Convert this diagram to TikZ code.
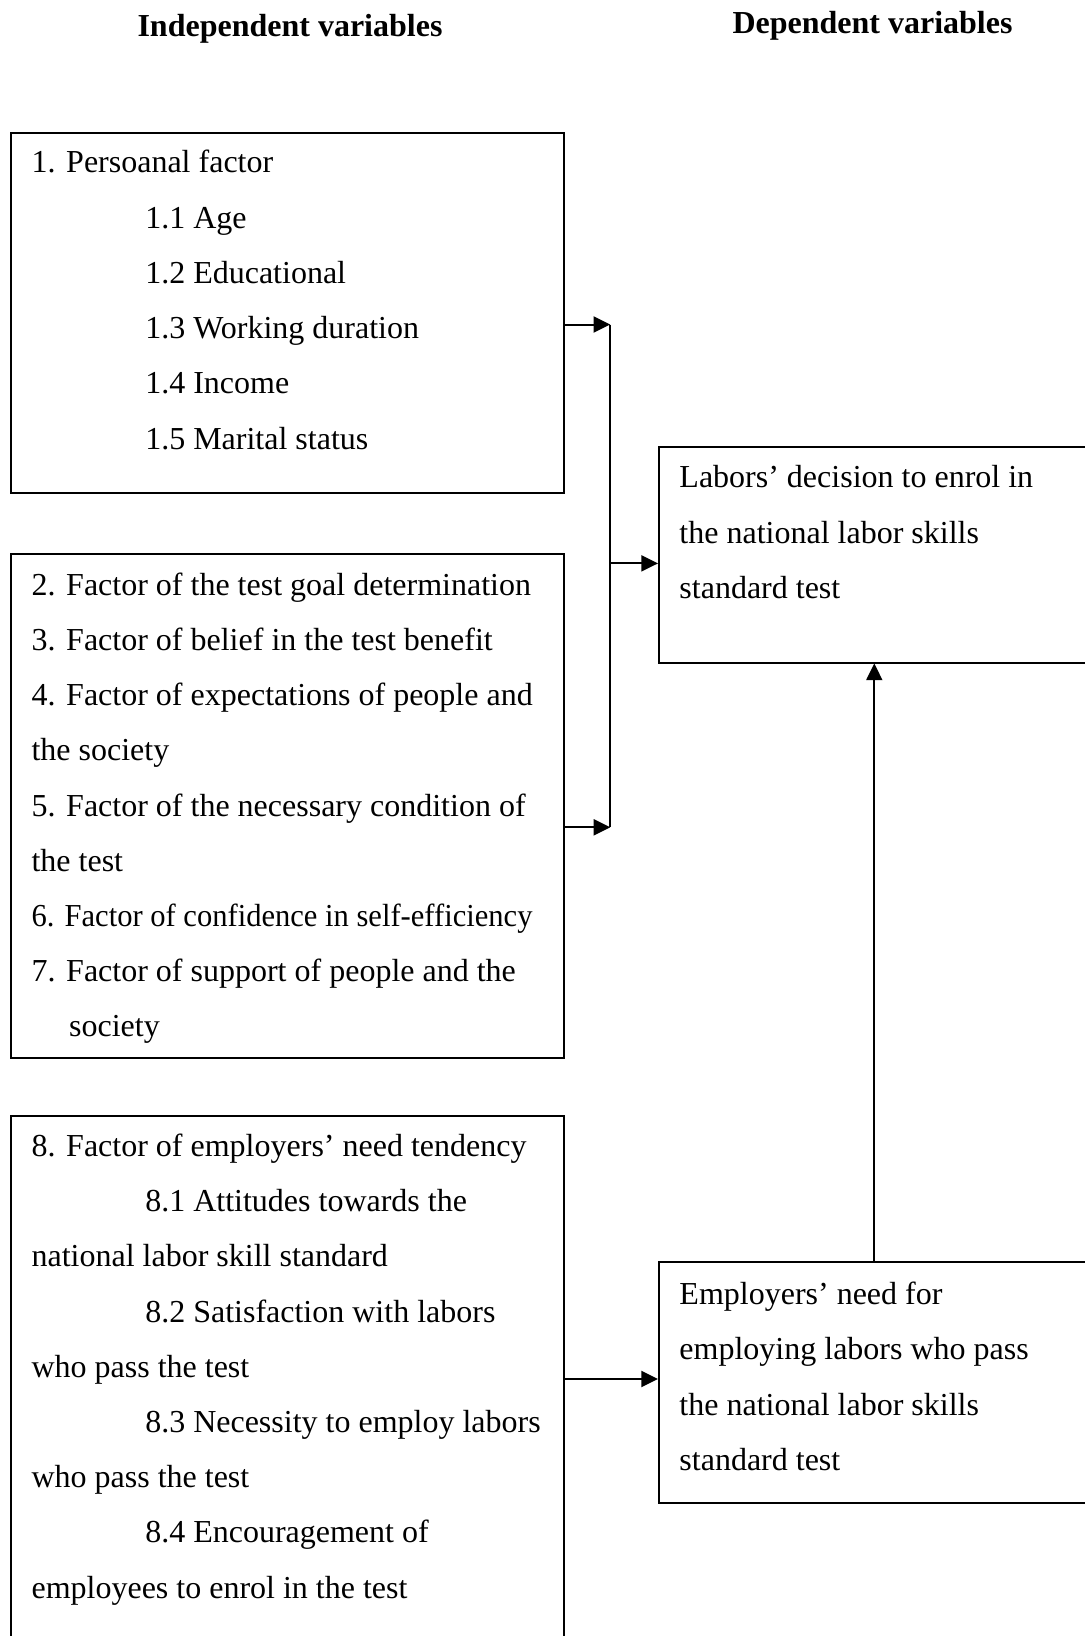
\documentclass[tikz,border=0pt]{standalone}
\usepackage{fontspec}
\usepackage{graphicx}
\setmainfont{Liberation Serif}
\usetikzlibrary{arrows.meta}
\begin{document}
\begin{tikzpicture}[x=0.75pt,y=-0.75pt,
  boxst/.style={draw, line width=1.5pt, rectangle, inner sep=0pt, anchor=north west},
  txt/.style={anchor=base west, inner sep=0pt, font=\fontsize{24}{28}\selectfont},
  head/.style={anchor=base, inner sep=0pt, font=\fontsize{24}{28}\selectfont\bfseries},
  arr/.style={line width=1.5pt, -{Triangle[length=12.5pt,width=12pt]}},
  conn/.style={line width=1.5pt}]
\useasboundingbox (0,0) rectangle (1085,1636);
\clip (0,0) rectangle (1085,1636);
\fill[white] (0,0) rectangle (1085,1636);

% headings
\node[head] (h1) at (290,36) {Independent variables};
\node[head] (h2) at (872.5,33) {Dependent variables};

% boxes
\node[boxst, minimum width=414.8pt, minimum height=270pt] (b1) at (10.4,131.5) {};
\node[boxst, minimum width=414.8pt, minimum height=378pt] (b2) at (10.4,553) {};
\node[boxst, minimum width=414.8pt, minimum height=397.5pt] (b3) at (10.4,1115) {};
\node[boxst, minimum width=330pt, minimum height=162pt] (r1) at (658,445.5) {};
\node[boxst, minimum width=330pt, minimum height=180.75pt] (r2) at (658,1261) {};

% box 1 text
\node[txt] (t11) at (31.3,172.7) {1. Persoanal factor};
\node[txt] (t12) at (145,228) {1.1 Age};
\node[txt] (t13) at (145,283.3) {1.2 Educational};
\node[txt] (t14) at (145,338.6) {1.3 Working duration};
\node[txt] (t15) at (145,393.9) {1.4 Income};
\node[txt] (t16) at (145,449.2) {1.5 Marital status};

% box 2 text
\node[txt] (t21) at (31.3,595.2) {2. Factor of the test goal determination};
\node[txt] (t22) at (31.3,650.4) {3. Factor of belief in the test benefit};
\node[txt] (t23) at (31.3,705.6) {4. Factor of expectations of people and};
\node[txt] (t24) at (31.3,760.8) {the society};
\node[txt] (t25) at (31.3,816) {5. Factor of the necessary condition of};
\node[txt] (t26) at (31.3,871.2) {the test};
\node[txt] (t27) at (31.3,926.4) {\scalebox{0.955}[1]{6. Factor of confidence in self-efficiency}};
\node[txt] (t28) at (31.3,981.6) {7. Factor of support of people and the};
\node[txt] (t29) at (68.9,1036.8) {society};

% box 3 text
\node[txt] (t31) at (31.3,1156.5) {8. Factor of employers’ need tendency};
\node[txt] (t32) at (145,1211.7) {8.1 Attitudes towards the};
\node[txt] (t33) at (31.3,1266.9) {national labor skill standard};
\node[txt] (t34) at (145,1322.1) {8.2 Satisfaction with labors};
\node[txt] (t35) at (31.3,1377.3) {who pass the test};
\node[txt] (t36) at (145,1432.5) {8.3 Necessity to employ labors};
\node[txt] (t37) at (31.3,1487.7) {who pass the test};
\node[txt] (t38) at (145,1542.9) {8.4 Encouragement of};
\node[txt] (t39) at (31.3,1598.1) {employees to enrol in the test};

% right box texts
\node[txt] (u11) at (679.2,487.8) {Labors’ decision to enrol in};
\node[txt] (u12) at (679.2,543) {the national labor skills};
\node[txt] (u13) at (679.2,598.2) {standard test};

\node[txt] (u21) at (679.2,1304.7) {Employers’ need for};
\node[txt] (u22) at (679.2,1359.9) {employing labors who pass};
\node[txt] (u23) at (679.2,1415.1) {the national labor skills};
\node[txt] (u24) at (679.2,1470.3) {standard test};

% connectors
\coordinate (v1) at (610.3,324.5);
\coordinate (v2) at (610.3,827.3);
\coordinate (vm) at (610.3,563.4);
\coordinate (m3) at (600,1379);
\coordinate (vx) at (874.3,1000);
\draw[conn] (v1) -- (v2);
\draw[arr] (b1.east |- v1) -- (v1);
\draw[arr] (b2.east |- v2) -- (v2);
\draw[arr] (vm) -- (r1.west |- vm);
\draw[arr] (b3.east |- m3) -- (r2.west |- m3);
\draw[arr] (r2.north -| vx) -- (r1.south -| vx);
\end{tikzpicture}
\end{document}
